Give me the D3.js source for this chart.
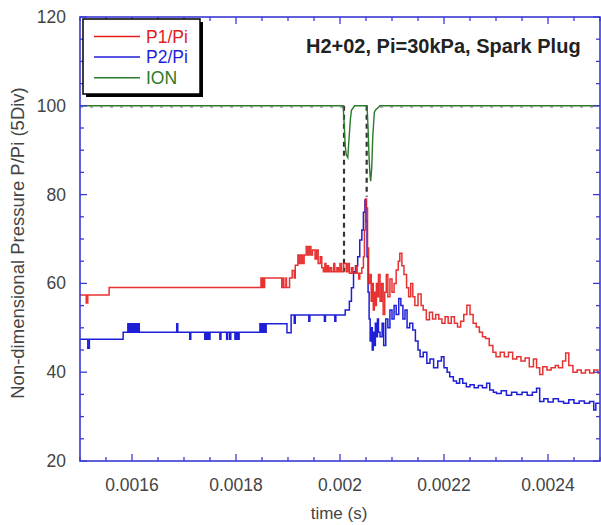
<!DOCTYPE html>
<html><head><meta charset="utf-8">
<script src="https://cdn.jsdelivr.net/npm/d3@7"></script>
<style>body{margin:0;background:#fff}svg{display:block}text{font-family:"Liberation Sans",Arial,sans-serif}</style>
</head><body><svg id="c" width="601" height="525"></svg>
<script>
// time in microseconds, values are P/Pi
const p1 = [[1500,57.4],[1512,55.6],[1515,57.4],[1556,59.1],[1848,61.2],[1850,59.1],[1851,61.2],[1852,59.1],[1853,61.2],[1854,59.1],[1855,61.2],
[1888,59.1],[1891,61.2],[1892,59.1],[1896,61.2],[1897,59.1],[1903,61.2],[1908,62.9],[1912,61.2],[1914,64.1],[1919,66.4],[1922,64.5],[1925,66.4],[1928,64.5],[1931,66.4],[1935,68.3],[1938,66.4],[1941,68.3],[1944,66.4],[1947,67.5],[1952,65.5],[1955,67.5],[1958,64.5],[1962,66],[1965,63.5],[1968,62.6],[1971,64.5],[1973,62.6],[1976,64],[1978,62.6],[1981,63.5],[1984,62.6],[1988,64.5],[1990,62.6],[1994,63.5],[1997,62.6],[2000,64.5],[2003,62.6],[2007,64.5],[2012,62.6],[2015,64.5],[2018,62.3],[2022,63.5],[2025,62.3],[2030,64],[2033,62.3],[2036,61],[2038,62.3],[2042,63.5],[2045,66],[2047,72],[2049,79],[2051,77],[2053,68],[2055,60],[2058,62],[2060,56],[2062,60],[2064,54],[2066,58],[2068,55],[2070,60],[2072,57],[2074,62],
[2077,56],[2080,60],[2083,53],[2086,58],[2089,62],[2092,57],[2096,61],[2100,58],[2104,60],[2108,63],[2112,65],[2115,66.8],[2119,64],[2123,62],[2128,59],[2132,57],[2136,60],[2140,57],[2144,55],[2150,57.6],[2156,55],[2160,54],[2166,51.8],[2172,53.5],[2178,52],[2184,53],[2190,52],[2196,51],[2202,52.5],[2208,51],[2214,52.5],[2220,51],[2226,50.2],[2232,51.5],[2238,53],[2244,55.1],[2250,53],[2256,51],[2262,50.2],[2268,49],[2274,48],[2280,47.6],[2287,46],[2294,44.5],[2300,43.5],[2308,44.5],[2316,43.5],[2324,44.5],[2332,43],[2340,43.5],[2348,42.5],[2356,43.2],[2364,41.2],[2372,43],[2378,41],[2384,39.5],[2390,41.2],[2398,40.5],[2406,41],[2414,41.5],[2420,41],[2428,42.5],[2434,44.3],[2440,41.5],[2448,40],[2456,40.5],[2464,39.8],[2472,40.5],[2480,39.8],[2488,40.5],[2496,39.8],[2500,40]];

const p2 = [[1500,47.4],[1515,45.4],[1518,47.4],[1583,49],[1592,50.9],[1594,49],[1595,50.9],[1597,49],[1598,50.9],[1600,49],[1601,50.9],[1603,49],[1604,50.9],[1606,49],[1608,50.9],[1610,49],[1612,50.9],[1614,49],[1686,50.9],[1688,49],[1711,47.4],[1713,49],[1740,47.4],[1741,49],[1742,47.4],[1744,49],[1745,47.4],[1747,49],[1748,47.4],[1750,49],[1769,47.4],[1771,49],[1782,47.4],[1784,49],[1788,47.4],[1790,49],[1798,47.4],[1800,49],[1801,47.4],[1803,49],[1804,47.4],[1806,49],[1846,50.9],[1848,49],[1849,50.9],[1851,49],[1852,50.9],[1854,49],[1855,50.9],[1857,49],[1858,50.9],[1898,48.9],[1906,52.9],[1912,51],[1914,52.9],[1940,51.5],[1942,52.9],[1970,51.5],[1972,52.9],[1990,51.5],[1992,52.9],[2010,54],[2018,56],[2022,59],[2026,62.6],[2030,64],[2034,66],[2038,69.8],[2042,72],[2045,76],[2048,78.8],[2050,74],[2052,66],[2054,58],[2056,52],[2058,47],[2060,50],[2062,45],[2064,49],[2066,46],[2068,51],[2070,48],[2072,52],[2074,49],
[2077,48],[2081,51],[2084,46],[2088,52],[2092,50],[2096,54],[2100,52],[2104,55],[2108,53],[2113,56.6],[2117,55],[2121,52],[2125,54],[2129,50],[2134,51],[2140,49.5],[2145,47],[2150,45],[2154,43.5],[2160,44.5],[2167,42],[2173,43],[2180,41],[2188,42.5],[2195,43.5],[2200,41],[2206,40],[2211,39],[2218,38],[2224,37.5],[2230,38.5],[2236,37.5],[2243,36.7],[2250,37.2],[2258,36.5],[2266,37],[2274,36.5],[2282,37.5],[2288,36],[2295,35.5],[2301,35.2],[2310,35.8],[2320,34.8],[2330,35.5],[2340,35],[2350,35.5],[2360,34.8],[2370,35.5],[2378,36.4],[2384,33.4],[2392,34],[2400,33.3],[2410,34],[2420,33.4],[2430,33],[2440,33.8],[2450,33],[2460,33.5],[2470,33],[2480,33.4],[2488,31.5],[2492,33],[2500,33]];

const ion = [[1500,100],[2006,100],[2008,96],[2010,91],[2012,89],[2015,88.3],[2017,92],[2020,97],[2022,99],[2028,100],[2052,100],[2054,95],[2056,88],[2058,84],[2059,83],[2061,86],[2063,93],[2066,98.5],[2068,99],[2077,100],[2500,100]];

const markers = [[2007.7,100,62.6],[2051.3,100,79.5]]; // time, from, to

const seriesNames = ["P1/Pi","P2/Pi","ION"];
const seriesColors = ["#e41c1c","#1f1fd8","#2b7a2b"];
const xTicks = [0.0016,0.0018,0.002,0.0022,0.0024];
const xTickLabels = ["0.0016","0.0018","0.002","0.0022","0.0024"];
const yTicks = [20,40,60,80,100,120];
const title = "H2+02, Pi=30kPa, Spark Plug";
const xTitle = "time (s)";
const yTitle = "Non-dimensional Pressure P/Pi (5Div)";

const svg = d3.select("#c");
const L=80,R=600,T=17,B=461;
const x = d3.scaleLinear().domain([0.0015,0.0025]).range([L,R]);
const y = d3.scaleLinear().domain([20,120]).range([B,T]);
const axisCol = "#3a3ad6";

svg.append("clipPath").attr("id","clip").append("rect").attr("x",L).attr("y",T).attr("width",R-L).attr("height",B-T);
const g = svg.append("g").attr("clip-path","url(#clip)");

g.selectAll(".mk").data(markers).enter().append("line")
 .attr("x1",d=>x(d[0]*1e-6)).attr("x2",d=>x(d[0]*1e-6)).attr("y1",d=>y(d[1])).attr("y2",d=>y(d[2]))
 .attr("stroke","#333").attr("stroke-width",2.2).attr("stroke-dasharray","5,4");

const stepLine = d3.line().x(d=>x(d[0]*1e-6)).y(d=>y(d[1])).curve(d3.curveStepAfter);
const lin = d3.line().x(d=>x(d[0]*1e-6)).y(d=>y(d[1]));
g.append("path").attr("d",lin(ion)).attr("fill","none").attr("stroke",seriesColors[2]).attr("stroke-width",1.4);
g.append("line").attr("x1",L).attr("x2",x(0.002006)).attr("y1",y(99.7)).attr("y2",y(99.7)).attr("stroke","#333").attr("stroke-width",1).attr("stroke-dasharray","3,7").attr("opacity",0.6);
g.append("line").attr("x1",x(0.002077)).attr("x2",R).attr("y1",y(99.7)).attr("y2",y(99.7)).attr("stroke","#333").attr("stroke-width",1).attr("stroke-dasharray","3,7").attr("opacity",0.6);
g.append("path").attr("d",stepLine(p2)).attr("fill","none").attr("stroke",seriesColors[1]).attr("stroke-width",1.5);
g.append("path").attr("d",stepLine(p1)).attr("fill","none").attr("stroke",seriesColors[0]).attr("stroke-width",1.5).attr("opacity",0.9);

const minorX = d3.range(0.0015,0.00250001,0.00005);
const minorY = d3.range(20,120.001,5);
const ax = svg.append("g");
function tickLinesX(yy,dir){
  minorX.forEach(v=>{const major = xTicks.some(t=>Math.abs(t-v)<1e-9);
    ax.append("line").attr("x1",x(v)).attr("x2",x(v)).attr("y1",yy).attr("y2",yy+dir*(major?7:4)).attr("stroke",axisCol).attr("stroke-width",1.3);});
}
function tickLinesY(xx,dir){
  minorY.forEach(v=>{const major = yTicks.includes(v);
    ax.append("line").attr("y1",y(v)).attr("y2",y(v)).attr("x1",xx).attr("x2",xx+dir*(major?7:4)).attr("stroke",axisCol).attr("stroke-width",1.3);});
}
tickLinesX(B,-1); tickLinesX(T,1); tickLinesY(L,1); tickLinesY(R,-1);
ax.append("rect").attr("x",L).attr("y",T).attr("width",R-L).attr("height",B-T).attr("fill","none").attr("stroke",axisCol).attr("stroke-width",1.6);

svg.selectAll(".xl").data(xTicks).enter().append("text").attr("x",d=>x(d)).attr("y",491).attr("text-anchor","middle")
 .attr("font-size",17.5).attr("fill","#444").text((d,i)=>xTickLabels[i]);
svg.selectAll(".yl").data(yTicks).enter().append("text").attr("x",66).attr("y",d=>y(d)+6).attr("text-anchor","end")
 .attr("font-size",17.5).attr("fill","#444").text(d=>d);
svg.append("text").attr("x",339).attr("y",519).attr("text-anchor","middle").attr("font-size",17).attr("fill","#444").text(xTitle);
svg.append("text").attr("transform","translate(24,243) rotate(-90)").attr("text-anchor","middle").attr("font-size",18.5).attr("fill","#444").text(yTitle);
svg.append("text").attr("x",306).attr("y",53).attr("font-size",20).attr("font-weight","bold").attr("fill","#222").text(title);

const lg = svg.append("g");
lg.append("rect").attr("x",86).attr("y",22).attr("width",117).attr("height",75).attr("fill","#000");
lg.append("rect").attr("x",83).attr("y",19).attr("width",117).attr("height",75).attr("fill","#fff").attr("stroke","#000").attr("stroke-width",1.5);
seriesNames.forEach((n,i)=>{
  const yy = 36.5 + i*20.6;
  lg.append("line").attr("x1",94).attr("x2",140).attr("y1",yy).attr("y2",yy).attr("stroke",seriesColors[i]).attr("stroke-width",1.5);
  lg.append("text").attr("x",146).attr("y",yy+6).attr("font-size",17.5).attr("fill",seriesColors[i]).text(n);
});
</script></body></html>
